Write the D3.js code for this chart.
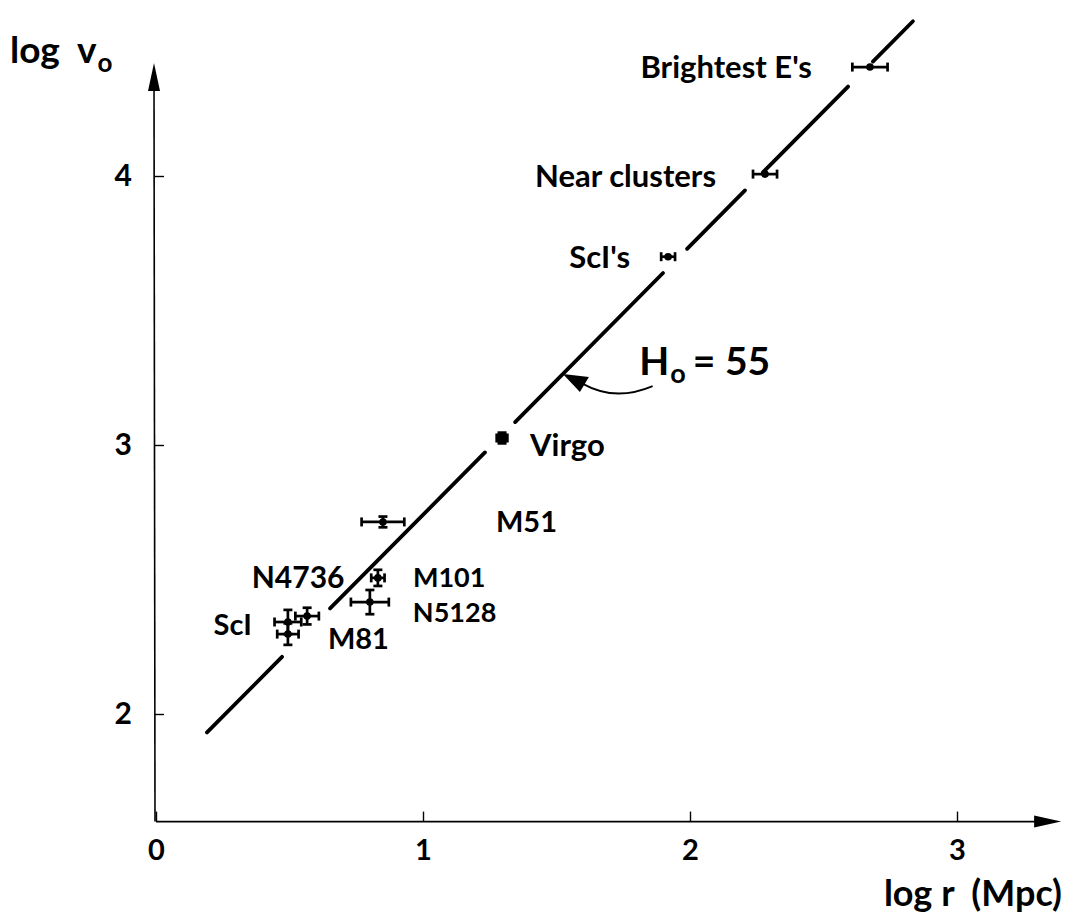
<!DOCTYPE html>
<html>
<head>
<meta charset="utf-8">
<script src="https://cdn.jsdelivr.net/npm/d3@7/dist/d3.min.js"></script>
<style>
  html, body { margin: 0; padding: 0; background: #fff; }
  svg { display: block; }
  text { font-family: Lato, "Open Sans", "DejaVu Sans", sans-serif; fill: #000; }
</style>
</head>
<body>
<div id="chart"></div>
<script>
// ---------------- data ----------------
const names  = ["ScI", "M81", "N4736", "N5128", "M101", "M51", "Virgo", "ScI's", "Near clusters", "Brightest E's"];
const logR   = [0.494, 0.494, 0.566, 0.801, 0.831, 0.850, 1.296, 1.918, 2.281, 2.674];
const logV   = [2.342, 2.297, 2.364, 2.416, 2.506, 2.714, 3.026, 3.700, 4.007, 4.405];
const errR   = [0.050, 0.040, 0.044, 0.071, 0.025, 0.080, 0.020, 0.026, 0.045, 0.066];
const errV   = [0.045, 0.040, 0.031, 0.045, 0.030, 0.020, 0.020, 0.000, 0.000, 0.000];
const xTicks = [0, 1, 2, 3];
const yTicks = [2, 3, 4];
const H0 = 55;
// visible pieces of the Hubble line (log r ranges; gaps left around points)
const fitSegments = [[0.191, 0.472], [0.652, 1.232], [1.345, 1.899], [1.989, 2.206], [2.273, 2.592], [2.685, 2.835]];

// ---------------- layout ----------------
const W = 1069, H = 916;
const svg = d3.select("#chart").append("svg").attr("width", W).attr("height", H);
svg.append("rect").attr("width", W).attr("height", H).attr("fill", "#fff");

const x = d3.scaleLinear().domain([0, 3]).range([156, 957]);
const y = d3.scaleLinear().domain([2, 4]).range([714, 176]);
const xMin = 0, xMax = 3.39, yMin = 1.60, yMax = 4.42;

// axes (custom lines with arrowheads)
const axisG = svg.append("g");
axisG.append("line").attr("x1", x(xMin)).attr("y1", y(yMin)).attr("x2", x(xMax) - 10).attr("y2", y(yMin))
  .attr("stroke", "#000").attr("stroke-width", 1.6);
axisG.append("line").attr("x1", x(xMin) - 1).attr("y1", y(yMin)).attr("x2", x(xMin) - 2).attr("y2", y(yMax) + 10)
  .attr("stroke", "#000").attr("stroke-width", 1.6);
// arrowheads
axisG.append("path")
  .attr("d", `M${x(xMax)},${y(yMin)} L${x(xMax) - 27},${y(yMin) - 6} L${x(xMax) - 27},${y(yMin) + 6} Z`)
  .attr("fill", "#000");
axisG.append("path")
  .attr("d", `M${x(xMin) - 2},${y(yMax)} L${x(xMin) - 8},${y(yMax) + 28} L${x(xMin) + 4},${y(yMax) + 28} Z`)
  .attr("fill", "#000");

// tick marks + labels using d3 axes
const xAxis = d3.axisBottom(x).tickValues(xTicks).tickFormat(d3.format("d"))
  .tickSizeInner(-10).tickSizeOuter(0).tickPadding(18);
const gx = svg.append("g").attr("transform", `translate(0,${y(yMin)})`).call(xAxis);
gx.select(".domain").remove();
gx.selectAll(".tick line").attr("stroke", "#000").attr("stroke-width", 1.4);
gx.selectAll(".tick text").attr("font-size", 29).attr("font-weight", "bold")
  .style("font-family", "Lato, sans-serif");

const yAxis = d3.axisLeft(y).tickValues(yTicks).tickFormat(d3.format("d"))
  .tickSizeInner(-9).tickSizeOuter(0).tickPadding(23);
const gy = svg.append("g").attr("transform", `translate(${x(xMin) - 1},0)`).call(yAxis);
gy.select(".domain").remove();
gy.selectAll(".tick line").attr("stroke", "#000").attr("stroke-width", 1.4);
gy.selectAll(".tick text").attr("font-size", 30).attr("font-weight", "bold")
  .style("font-family", "Lato, sans-serif");

// axis titles
const yt = svg.append("text").attr("x", 10).attr("y", 63).attr("font-size", 37).attr("font-weight", "bold")
  .attr("xml:space", "preserve").style("white-space", "pre");
yt.append("tspan").text("log  v");
yt.append("tspan").attr("font-size", 26).attr("dy", 9).attr("dx", 1).text("o");

svg.append("text").attr("x", 1062).attr("y", 906).attr("text-anchor", "end")
  .attr("font-size", 36).attr("font-weight", "bold")
  .attr("xml:space", "preserve").style("white-space", "pre").text("log r  (Mpc)");

// ---------------- Hubble line ----------------
const logH = Math.log10(H0);
svg.append("g").selectAll("line").data(fitSegments).join("line")
  .attr("x1", d => x(d[0])).attr("y1", d => y(d[0] + logH))
  .attr("x2", d => x(d[1])).attr("y2", d => y(d[1] + logH))
  .attr("stroke", "#000").attr("stroke-width", 3.8).attr("stroke-linecap", "round");

// ---------------- points with error bars ----------------
const pts = names.map((n, i) => ({ name: n, r: logR[i], v: logV[i], er: errR[i], ev: errV[i] }));
const cap = 4.5;
const pg = svg.append("g").attr("stroke", "#000").attr("stroke-width", 2.7);
pts.forEach(p => {
  const cx = x(p.r), cy = y(p.v);
  if (p.er > 0) {
    pg.append("line").attr("x1", x(p.r - p.er)).attr("x2", x(p.r + p.er)).attr("y1", cy).attr("y2", cy);
    pg.append("line").attr("x1", x(p.r - p.er)).attr("x2", x(p.r - p.er)).attr("y1", cy - cap).attr("y2", cy + cap);
    pg.append("line").attr("x1", x(p.r + p.er)).attr("x2", x(p.r + p.er)).attr("y1", cy - cap).attr("y2", cy + cap);
  }
  if (p.ev > 0) {
    pg.append("line").attr("y1", y(p.v - p.ev)).attr("y2", y(p.v + p.ev)).attr("x1", cx).attr("x2", cx);
    pg.append("line").attr("y1", y(p.v - p.ev)).attr("y2", y(p.v - p.ev)).attr("x1", cx - cap).attr("x2", cx + cap);
    pg.append("line").attr("y1", y(p.v + p.ev)).attr("y2", y(p.v + p.ev)).attr("x1", cx - cap).attr("x2", cx + cap);
  }
  pg.append("circle").attr("cx", cx).attr("cy", cy).attr("r", p.name === "Virgo" ? 6 : 3.8)
    .attr("fill", "#000").attr("stroke", "none");
});

// ---------------- labels ----------------
// pixel offsets of each label from its point: [dx, dy, anchor, size]
const labelLayout = {
  "ScI": [-36, 3, "end", 29],
  "M81": [40, 4, "start", 29],
  "N4736": [-9, -39, "middle", 30],
  "N5128": [43, 10, "start", 27],
  "M101": [35, -1, "start", 27],
  "M51": [113, 0, "start", 29],
  "Virgo": [28, 7, "start", 31],
  "ScI's": [-38, 0, "end", 31],
  "Near clusters": [-49, 2, "end", 31],
  "Brightest E's": [-58, 0, "end", 31]
};
svg.append("g").selectAll("text").data(pts).join("text")
  .attr("x", d => x(d.r) + labelLayout[d.name][0])
  .attr("y", d => y(d.v) + labelLayout[d.name][1])
  .attr("dy", "0.36em")
  .attr("text-anchor", d => labelLayout[d.name][2])
  .attr("font-size", d => labelLayout[d.name][3])
  .attr("font-weight", "bold")
  .text(d => d.name);

// ---------------- H0 annotation ----------------
const tipR = 1.524, tip = [x(tipR), y(tipR + logH)];
const startPt = [x(1.86), y(3.219)];
const ctrl = [x(1.72), y(3.16)];
svg.append("path")
  .attr("d", `M${startPt[0]},${startPt[1]} Q${ctrl[0]},${ctrl[1]} ${tip[0] + 20},${tip[1] + 10}`)
  .attr("fill", "none").attr("stroke", "#000").attr("stroke-width", 1.8);
svg.append("path")
  .attr("d", `M${tip[0]},${tip[1]} L${tip[0] + 26},${tip[1] + 3} L${tip[0] + 17},${tip[1] + 18} Z`)
  .attr("fill", "#000");
const ht = svg.append("text").attr("x", x(1.81)).attr("y", y(3.26)).attr("font-size", 39).attr("font-weight", "bold");
ht.append("tspan").text("H");
ht.append("tspan").attr("font-size", 27).attr("dy", 8).attr("dx", 1).text("o");
ht.append("tspan").attr("dy", -8).attr("dx", 7).text("= 55");
</script>
</body>
</html>
